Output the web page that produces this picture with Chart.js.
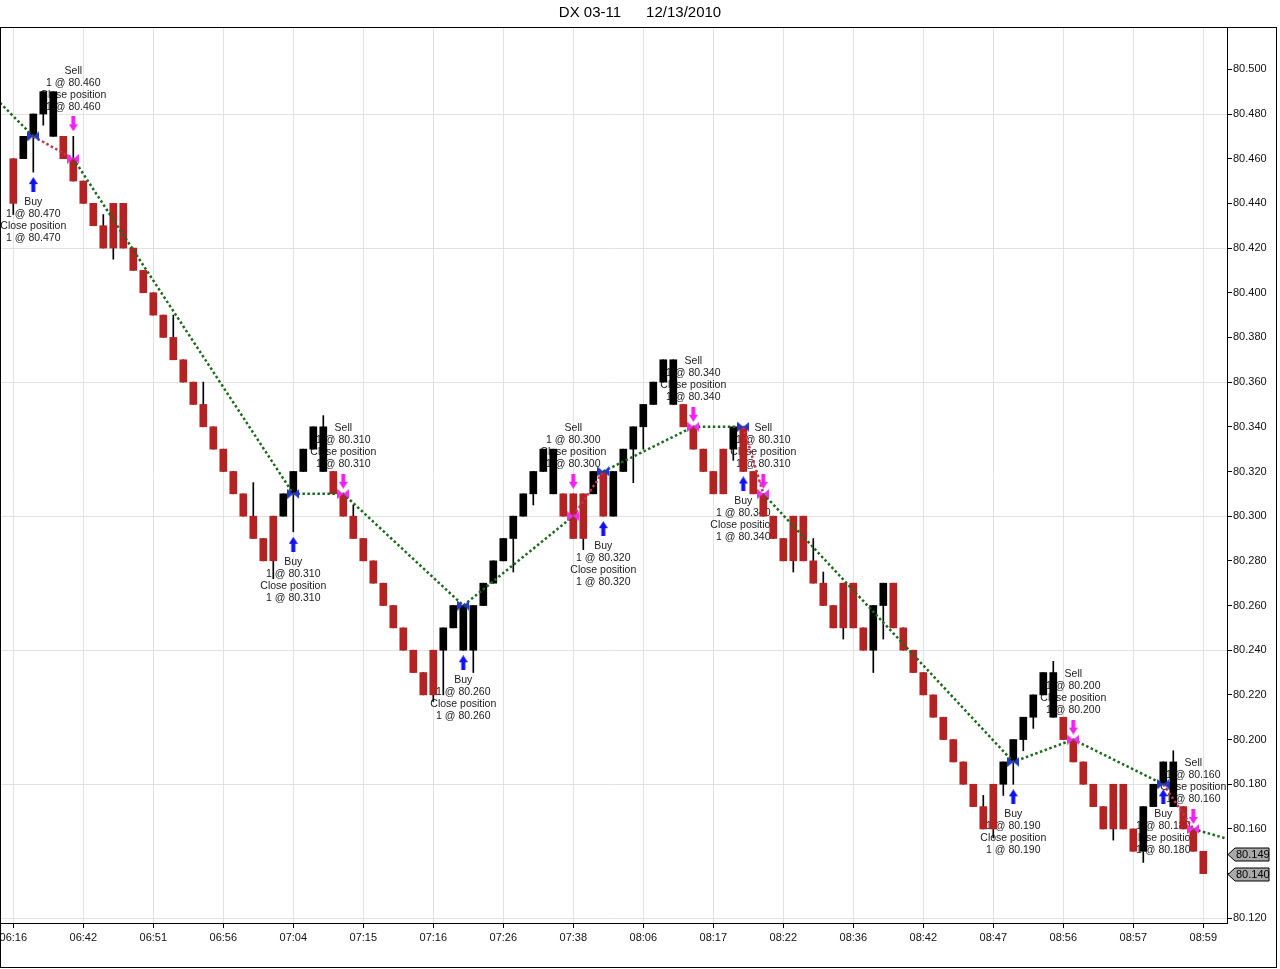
<!DOCTYPE html>
<html>
<head>
<meta charset="utf-8">
<title>DX 03-11</title>
<script src="https://cdn.jsdelivr.net/npm/chart.js@4.4.1/dist/chart.umd.min.js"></script>
<style>
  body { margin: 0; background: #fff; }
  canvas { display: block; }
</style>
</head>
<body>
<canvas id="grafico" width="1280" height="969"></canvas>
<script>
// time labels, one every 7 bars
var times = ['06:16', '06:42', '06:51', '06:56', '07:04', '07:15', '07:16', '07:26', '07:38',
             '08:06', '08:17', '08:22', '08:36', '08:42', '08:47', '08:56', '08:57', '08:59'];

var opens = [80.46,80.46,80.47,80.48,80.47,80.47,80.46,80.45,80.44,80.43,
             80.44,80.44,80.42,80.41,80.40,80.39,80.38,80.37,80.36,80.35,
             80.34,80.33,80.32,80.31,80.30,80.29,80.30,80.30,80.31,80.32,
             80.33,80.32,80.32,80.31,80.30,80.29,80.28,80.27,80.26,80.25,
             80.24,80.23,80.24,80.24,80.25,80.24,80.24,80.26,80.27,80.28,
             80.29,80.30,80.31,80.32,80.31,80.31,80.31,80.31,80.31,80.32,
             80.30,80.32,80.33,80.34,80.35,80.36,80.35,80.35,80.34,80.33,
             80.32,80.33,80.33,80.34,80.32,80.31,80.30,80.29,80.30,80.30,
             80.28,80.27,80.26,80.27,80.27,80.25,80.24,80.26,80.27,80.25,
             80.24,80.23,80.22,80.21,80.20,80.19,80.18,80.17,80.18,80.18,
             80.19,80.20,80.21,80.22,80.21,80.21,80.20,80.19,80.18,80.17,
             80.18,80.18,80.16,80.15,80.17,80.18,80.17,80.17,80.16,80.15];

var closes = [80.44,80.47,80.48,80.49,80.49,80.46,80.45,80.44,80.43,80.42,
              80.42,80.42,80.41,80.40,80.39,80.38,80.37,80.36,80.35,80.34,
              80.33,80.32,80.31,80.30,80.29,80.28,80.28,80.31,80.32,80.33,
              80.34,80.34,80.31,80.30,80.29,80.28,80.27,80.26,80.25,80.24,
              80.23,80.22,80.22,80.25,80.26,80.26,80.26,80.27,80.28,80.29,
              80.30,80.31,80.32,80.33,80.33,80.30,80.29,80.29,80.32,80.30,
              80.32,80.33,80.34,80.35,80.36,80.37,80.37,80.34,80.33,80.32,
              80.31,80.31,80.34,80.32,80.31,80.30,80.29,80.28,80.28,80.28,
              80.27,80.26,80.25,80.25,80.25,80.24,80.26,80.27,80.25,80.24,
              80.23,80.22,80.21,80.20,80.19,80.18,80.17,80.16,80.16,80.19,
              80.20,80.21,80.22,80.23,80.23,80.20,80.19,80.18,80.17,80.16,
              80.16,80.16,80.15,80.17,80.18,80.19,80.19,80.16,80.15,80.14];

var highs = [80.46,80.47,80.48,80.49,80.49,80.47,80.47,80.45,80.44,80.435,
             80.44,80.44,80.42,80.41,80.40,80.39,80.39,80.37,80.36,80.36,
             80.34,80.33,80.32,80.31,80.315,80.29,80.30,80.31,80.32,80.33,
             80.34,80.345,80.32,80.31,80.305,80.29,80.28,80.27,80.26,80.25,
             80.24,80.23,80.24,80.25,80.26,80.26,80.26,80.27,80.28,80.29,
             80.30,80.31,80.32,80.33,80.33,80.31,80.31,80.31,80.32,80.32,
             80.32,80.33,80.34,80.35,80.36,80.37,80.37,80.35,80.34,80.33,
             80.32,80.33,80.34,80.34,80.32,80.31,80.30,80.29,80.30,80.30,
             80.29,80.275,80.26,80.27,80.27,80.25,80.26,80.27,80.27,80.25,
             80.24,80.23,80.22,80.21,80.20,80.19,80.18,80.175,80.18,80.19,
             80.20,80.21,80.22,80.23,80.235,80.21,80.20,80.19,80.18,80.17,
             80.18,80.18,80.16,80.17,80.18,80.19,80.195,80.17,80.16,80.15];

var lows = [80.435,80.46,80.454,80.475,80.47,80.46,80.45,80.44,80.43,80.42,
            80.415,80.42,80.41,80.40,80.39,80.38,80.37,80.36,80.35,80.34,
            80.33,80.32,80.31,80.30,80.29,80.28,80.272,80.30,80.293,80.32,
            80.33,80.32,80.31,80.30,80.29,80.28,80.27,80.26,80.25,80.24,
            80.23,80.22,80.217,80.22,80.25,80.24,80.23,80.26,80.27,80.28,
            80.275,80.30,80.305,80.32,80.31,80.30,80.29,80.285,80.31,80.30,
            80.30,80.32,80.315,80.33,80.35,80.36,80.35,80.34,80.33,80.32,
            80.31,80.31,80.325,80.32,80.31,80.30,80.29,80.28,80.275,80.28,
            80.27,80.26,80.25,80.245,80.25,80.24,80.23,80.245,80.25,80.24,
            80.23,80.22,80.21,80.20,80.19,80.18,80.17,80.16,80.156,80.175,
            80.18,80.195,80.205,80.22,80.21,80.20,80.19,80.18,80.17,80.16,
            80.155,80.16,80.15,80.145,80.17,80.18,80.17,80.16,80.15,80.14];

var priceTicks = [80.12,80.14,80.16,80.18,80.20,80.22,80.24,80.26,80.28,80.30,
                  80.32,80.34,80.36,80.38,80.40,80.42,80.44,80.46,80.48,80.50];

// executions
var tradeBars   = [2, 6, 28, 33, 45, 56, 59, 68, 73, 75, 100, 106, 115, 118];
var tradeSides  = ['Buy','Sell','Buy','Sell','Buy','Sell','Buy','Sell','Buy','Sell','Buy','Sell','Buy','Sell'];
var tradePrices = [80.47, 80.46, 80.31, 80.31, 80.26, 80.30, 80.32, 80.34, 80.34, 80.31, 80.19, 80.20, 80.18, 80.16];

// where the trade line enters and leaves the plot
var lineStart = 80.485;
var lineEnd = 80.1556;

// tags on the price axis
var axisTags = [80.149, 80.140];

var X_MIN = -1.33, X_MAX = 121.37;
var VERDE = '#1c6a1c', VERMELHO = '#c8324e';
var FONTE = '"Liberation Sans", Arial, sans-serif';

function bowtie(cor) {
	var c = document.createElement('canvas');
	c.width = 12; c.height = 10;
	var g = c.getContext('2d');
	g.fillStyle = cor;
	g.beginPath();
	g.moveTo(0, 0); g.lineTo(6, 5); g.lineTo(0, 10); g.closePath();
	g.moveTo(12, 0); g.lineTo(6, 5); g.lineTo(12, 10); g.closePath();
	g.fill();
	return c;
}

function seta(cor, paraCima) {
	var c = document.createElement('canvas');
	c.width = 9; c.height = 15;
	var g = c.getContext('2d');
	if (!paraCima) { g.translate(0, 15); g.scale(1, -1); }
	g.fillStyle = cor;
	g.beginPath();
	g.moveTo(0, 7); g.lineTo(4.5, 0); g.lineTo(9, 7); g.closePath();
	g.fill();
	g.fillRect(2.5, 6, 4, 9);
	return c;
}

var bodies = [], wicks = [], bodyColors = [];
for (var i = 0; i < opens.length; i++) {
	bodies.push({x: i, y: [opens[i], closes[i]]});
	wicks.push({x: i, y: [lows[i], highs[i]]});
	bodyColors.push(closes[i] >= opens[i] ? '#000000' : '#b22424');
}

var linePts = [{x: X_MIN, y: lineStart}];
var buyMarks = [], sellMarks = [], buyArrows = [], sellArrows = [];
tradeBars.forEach(function(b, k) {
	linePts.push({x: b, y: tradePrices[k]});
	if (tradeSides[k] === 'Buy') {
		buyMarks.push({x: b, y: tradePrices[k]});
		buyArrows.push({x: b, y: lows[b] - 0.0056});
	} else {
		sellMarks.push({x: b, y: tradePrices[k]});
		sellArrows.push({x: b, y: highs[b] + 0.0056});
	}
});
linePts.push({x: X_MAX, y: lineEnd});

function corSegmento(ctx) {
	var j = ctx.p0DataIndex;
	if (j === 0) return VERDE;
	var k = j - 1;
	var p0 = linePts[j].y, p1 = linePts[j + 1].y;
	var ganho = tradeSides[k] === 'Buy' ? p1 - p0 : p0 - p1;
	return ganho < -1e-9 ? VERMELHO : VERDE;
}

// trade captions, drawn under the bars
var legendasOperacoes = {
	id: 'legendasOperacoes',
	beforeDatasetsDraw: function(chart) {
		var g = chart.ctx, xs = chart.scales.x, ys = chart.scales.y;
		g.save();
		g.font = '10.5px ' + FONTE;
		g.fillStyle = '#1a1a1a';
		g.textAlign = 'center';
		g.textBaseline = 'middle';
		tradeBars.forEach(function(b, k) {
			var px = xs.getPixelForValue(b);
			var preco = '1 @ ' + tradePrices[k].toFixed(3);
			var linhas = [tradeSides[k], preco, 'Close position', preco];
			if (tradeSides[k] === 'Buy') {
				var yc = ys.getPixelForValue(lows[b] - 0.0056);
				linhas.forEach(function(t, n) { g.fillText(t, px, yc + 17.5 + n * 12); });
			} else {
				var yc2 = ys.getPixelForValue(highs[b] + 0.0056);
				linhas.forEach(function(t, n) { g.fillText(t, px, yc2 - 17 - (3 - n) * 12); });
			}
		});
		g.restore();
	}
};

var moldura = {
	id: 'moldura',
	afterDraw: function(chart) {
		var g = chart.ctx, ys = chart.scales.y, ca = chart.chartArea;
		g.save();
		g.font = '11px ' + FONTE;
		g.textBaseline = 'middle';
		g.textAlign = 'left';
		axisTags.forEach(function(v) {
			var y = Math.round(ys.getPixelForValue(v)) + 0.5;
			var x0 = ca.right + 1;
			g.beginPath();
			g.moveTo(x0, y);
			g.lineTo(x0 + 7, y - 6.5);
			g.lineTo(x0 + 41, y - 6.5);
			g.lineTo(x0 + 41, y + 6.5);
			g.lineTo(x0 + 7, y + 6.5);
			g.closePath();
			g.fillStyle = '#a9a9a9';
			g.fill();
			g.strokeStyle = '#000';
			g.lineWidth = 1;
			g.stroke();
			g.fillStyle = '#000';
			g.fillText(v.toFixed(3), x0 + 8, y);
		});
		g.strokeStyle = '#000';
		g.strokeRect(0.5, 27.5, 1276, 940);
		g.restore();
	}
};

var grafico = new Chart(document.getElementById('grafico').getContext('2d'), {
	type: 'bar',
	data: {
		datasets: [{
			label: 'wicks',
			data: wicks,
			backgroundColor: '#000',
			barThickness: 1,
			grouped: false,
			order: 4
		}, {
			label: 'bodies',
			data: bodies,
			backgroundColor: bodyColors,
			barThickness: 7,
			grouped: false,
			order: 3
		}, {
			type: 'line',
			label: 'trades',
			data: linePts,
			borderColor: VERDE,
			borderWidth: 2.5,
			borderDash: [2.5, 2.5],
			pointRadius: 0,
			tension: 0,
			segment: { borderColor: corSegmento },
			order: 2
		}, {
			type: 'line', label: 'buy', data: buyMarks, showLine: false,
			pointStyle: bowtie('#2238c8'), order: 1
		}, {
			type: 'line', label: 'sell', data: sellMarks, showLine: false,
			pointStyle: bowtie('#ee30ee'), order: 1
		}, {
			type: 'line', label: 'buy arrow', data: buyArrows, showLine: false,
			pointStyle: seta('#1010f0', true), order: 0
		}, {
			type: 'line', label: 'sell arrow', data: sellArrows, showLine: false,
			pointStyle: seta('#f020f0', false), order: 0
		}]
	},
	options: {
		responsive: false,
		animation: false,
		layout: { autoPadding: false, padding: 0 },
		plugins: {
			legend: { display: false },
			tooltip: { enabled: false },
			title: {
				display: true,
				text: 'DX 03-11      12/13/2010',
				color: '#000',
				font: { family: FONTE, size: 15, weight: 'normal' },
				padding: { top: 4, bottom: 6 }
			}
		},
		scales: {
			x: {
				type: 'linear',
				min: X_MIN,
				max: X_MAX,
				offset: false,
				afterBuildTicks: function(axis) {
					axis.ticks = times.map(function(t, k) { return {value: k * 7}; });
				},
				afterFit: function(axis) {
					axis.height = 46;
					axis.paddingLeft = 0;
					axis.paddingRight = 0;
				},
				ticks: {
					autoSkip: false,
					maxRotation: 0,
					padding: 3,
					color: '#111',
					font: { family: FONTE, size: 11 },
					callback: function(v) { return times[Math.round(v / 7)]; }
				},
				grid: { color: '#e2e2e2', tickColor: '#000', tickLength: 5, offset: false },
				border: { display: true, color: '#000' }
			},
			y: {
				type: 'linear',
				position: 'right',
				min: 80.1179,
				max: 80.5185,
				afterBuildTicks: function(axis) {
					axis.ticks = priceTicks.map(function(v) { return {value: v}; });
				},
				afterFit: function(axis) {
					axis.width = 53;
					axis.paddingTop = 0;
					axis.paddingBottom = 0;
				},
				ticks: {
					padding: 1,
					color: '#111',
					font: { family: FONTE, size: 11 },
					callback: function(v) { return Number(v).toFixed(3); }
				},
				grid: {
					color: function(c) {
						var q = (c.tick.value - 80.12) / 0.06;
						return Math.abs(q - Math.round(q)) < 0.01 ? '#e2e2e2' : 'rgba(0,0,0,0)';
					},
					tickColor: '#000',
					tickLength: 5
				},
				border: { display: true, color: '#000' }
			}
		}
	},
	plugins: [legendasOperacoes, moldura]
});
</script>
</body>
</html>
